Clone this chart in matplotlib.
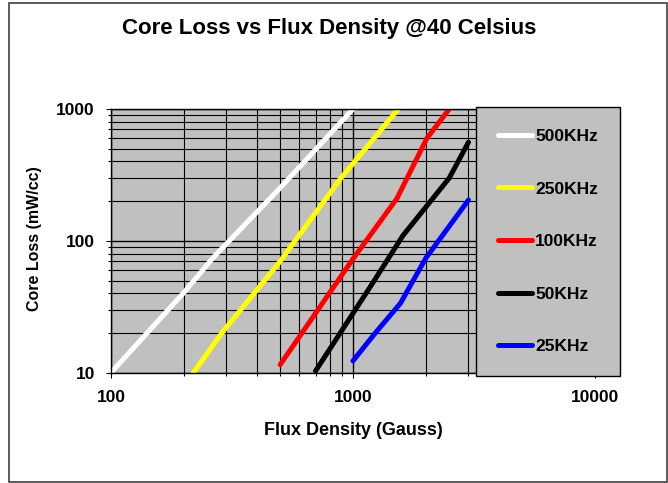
import matplotlib
matplotlib.use('Agg')
import matplotlib.pyplot as plt
from matplotlib.patches import Rectangle
from matplotlib.ticker import FixedLocator, NullFormatter

plt.rcParams['font.family'] = ['Liberation Sans', 'DejaVu Sans']
plt.rcParams['font.weight'] = 'bold'

# Flux density (Gauss) / core loss (mW/cc)
flux_500k = [100, 200, 265, 500, 1000]
loss_500k = [10, 40.5, 75, 252, 1000]

flux_250k = [219, 287, 500, 890, 1540]
loss_250k = [10, 20, 70, 298, 1000]

flux_100k = [500, 1000, 1520, 2020, 2500]
loss_100k = [11.5, 73, 210, 600, 1000]

flux_50k = [700, 1180, 1610, 2500, 3000]
loss_50k = [10.3, 45, 110, 300, 560]

flux_25k = [1000, 1250, 1570, 2000, 3000]
loss_25k = [12.3, 20.5, 33.6, 74, 204]

series = [
    ('500KHz', flux_500k, loss_500k, 'white'),
    ('250KHz', flux_250k, loss_250k, 'yellow'),
    ('100KHz', flux_100k, loss_100k, 'red'),
    ('50KHz', flux_50k, loss_50k, 'black'),
    ('25KHz', flux_25k, loss_25k, 'blue'),
]

x_ticks = [100, 1000, 10000]
x_tick_labels = ['100', '1000', '10000']
y_ticks = [10, 100, 1000]
y_tick_labels = ['10', '100', '1000']

W, H = 668, 483
fig = plt.figure(figsize=(W / 100, H / 100), dpi=100)

# outer chart border
fig.patches.append(Rectangle((9 / W, 1 / H), 658 / W, 479 / H, transform=fig.transFigure,
                             fill=False, edgecolor='#404040', linewidth=1.2))

ax = fig.add_axes([111 / W, 1 - 372.7 / H, 484 / W, 263.7 / H])
ax.set_facecolor('#C0C0C0')
ax.set_xscale('log')
ax.set_yscale('log')
ax.set_xlim(100, 10000)
ax.set_ylim(10, 1000)

ax.grid(which='major', color='black', linewidth=1.0)
ax.grid(which='minor', color='black', linewidth=0.8)
ax.set_axisbelow(True)

for label, fx, loss, color in series:
    ax.plot(fx, loss, color=color, linewidth=3.6, solid_capstyle='round',
            solid_joinstyle='round', label=label)

ax.xaxis.set_major_locator(FixedLocator(x_ticks))
ax.set_xticklabels(x_tick_labels)
ax.yaxis.set_major_locator(FixedLocator(y_ticks))
ax.set_yticklabels(y_tick_labels)
ax.xaxis.set_minor_formatter(NullFormatter())
ax.yaxis.set_minor_formatter(NullFormatter())

ax.tick_params(axis='x', which='major', direction='out', length=3.6, width=0.8, pad=8.5, labelsize=12.5)
ax.tick_params(axis='y', which='major', direction='out', length=3.6, width=0.8, pad=8, labelsize=12.5)
ax.tick_params(which='minor', direction='out', length=2.5, width=0.8)
for lbl in ax.get_xticklabels() + ax.get_yticklabels():
    lbl.set_fontweight('bold')

for s in ax.spines.values():
    s.set_color('black')
    s.set_linewidth(1.0)

leg = ax.legend(loc='upper left', bbox_to_anchor=(476 / W, 1 - 107 / H),
                bbox_transform=fig.transFigure, borderaxespad=0,
                prop={'size': 12.5, 'weight': 'bold'}, frameon=True, fancybox=False,
                facecolor='#C0C0C0', edgecolor='black', framealpha=1,
                handlelength=2.0, handletextpad=0.17, borderpad=1.25, labelspacing=2.16)
leg.get_frame().set_linewidth(1.0)

fig.text(329 / W, 1 - 34 / H, 'Core Loss vs Flux Density @40 Celsius',
         ha='center', va='baseline', fontsize=16, fontweight='bold')
fig.text(353 / W, 1 - 435 / H, 'Flux Density (Gauss)',
         ha='center', va='baseline', fontsize=13, fontweight='bold')
fig.text(35 / W, 244 / H, 'Core Loss (mW/cc)', rotation=90,
         ha='center', va='center', fontsize=11.5, fontweight='bold')

fig.savefig('out.png', dpi=100)
